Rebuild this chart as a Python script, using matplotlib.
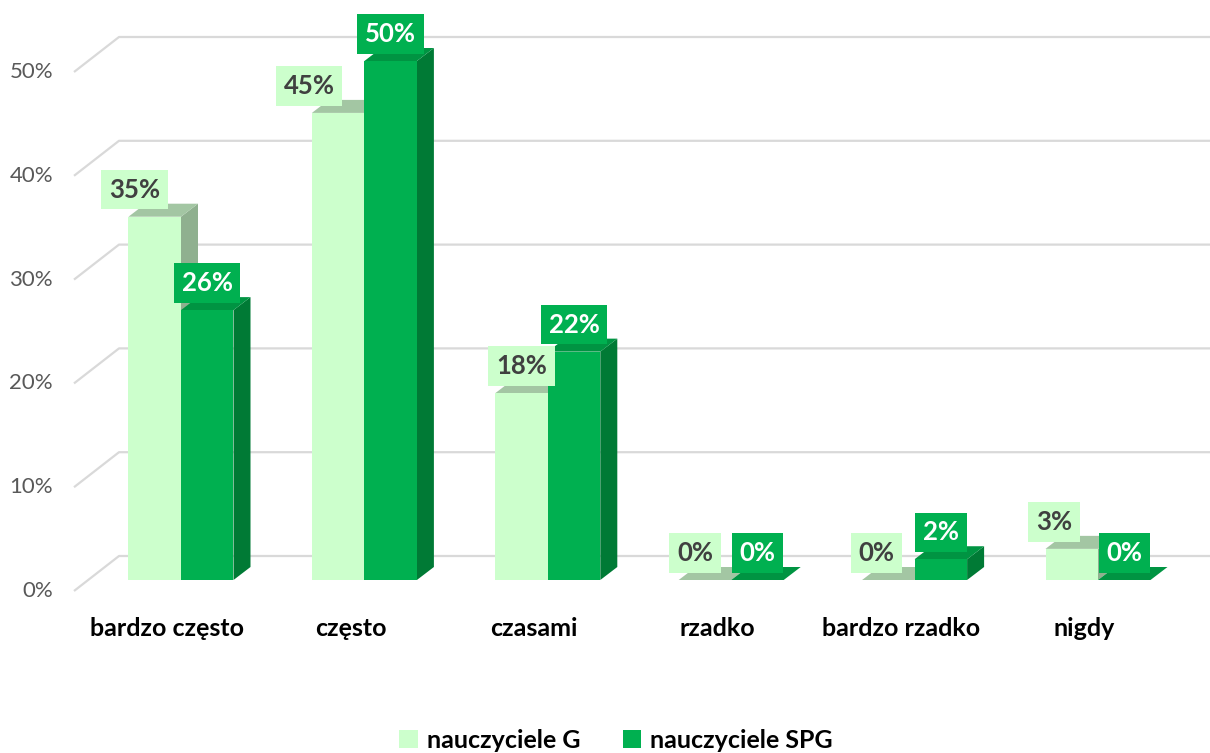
import matplotlib
matplotlib.use('Agg')
import matplotlib.pyplot as plt
from matplotlib.patches import Polygon, Rectangle, Patch

plt.rcParams['font.family'] = ['Lato', 'DejaVu Sans']

# --- data -------------------------------------------------------------
categories = ['bardzo często', 'często', 'czasami', 'rzadko', 'bardzo rzadko', 'nigdy']
teachers_g = [35, 45, 18, 0, 0, 3]
teachers_spg = [26, 50, 22, 0, 2, 0]
y_ticks = [0, 10, 20, 30, 40, 50]
series_names = ['nauczyciele G', 'nauczyciele SPG']

# --- style ------------------------------------------------------------
G_FRONT, G_TOP, G_SIDE = '#CCFFCC', '#A3C6A3', '#8FB08F'
S_FRONT, S_TOP, S_SIDE = '#00B050', '#009442', '#007A35'
GRID = '#D9D9D9'

PX_X = 183.4   # pixels per category
PX_Y = 10.38   # pixels per percent
BAR_W = 52.5 / PX_X
DEPTH_X, DEPTH_Y = 17 / PX_X, 13 / PX_Y
# G labels were nudged left in the original (pixels)
g_label_dx = [-20, -29, 0, -10, -12, -18]

fig = plt.figure(figsize=(12.1, 7.53), dpi=100)
ax = fig.add_axes([0, 0, 1, 1])
ax.set_xlim(-181 / PX_X, (1210 - 181) / PX_X)
ax.set_ylim((580 - 753) / PX_Y, 580 / PX_Y)
ax.axis('off')

# side wall + back wall gridlines
wall_front_x, wall_front_dy = (74 - 181) / PX_X, -11 / PX_Y
wall_back_x, wall_back_dy = (119 - 181) / PX_X, 24 / PX_Y
for t in y_ticks:
    ax.plot([wall_front_x, wall_back_x, ax.get_xlim()[1]],
            [t + wall_front_dy, t + wall_back_dy, t + wall_back_dy],
            color=GRID, lw=1.6, solid_capstyle='butt', zorder=1)
    ax.text((53 - 181) / PX_X, t + wall_front_dy, f'{t}%', ha='right', va='center',
            fontsize=16, color='#595959')


def draw_bar(x0, h, front, top, side):
    x1 = x0 + BAR_W
    ax.add_patch(Polygon([(x1, 0), (x1 + DEPTH_X, DEPTH_Y), (x1 + DEPTH_X, h + DEPTH_Y), (x1, h)],
                         closed=True, facecolor=side, edgecolor='none', zorder=2))
    ax.add_patch(Polygon([(x0, h), (x0 + DEPTH_X, h + DEPTH_Y), (x1 + DEPTH_X, h + DEPTH_Y), (x1, h)],
                         closed=True, facecolor=top, edgecolor='none', zorder=2))
    if h > 0:
        ax.add_patch(Rectangle((x0, 0), BAR_W, h, facecolor=front, edgecolor='none', zorder=2))


def draw_label(xc, h, txt, fc, tc, dx):
    ax.annotate(txt, xy=(xc, h), xytext=(dx, 27), textcoords='offset pixels',
                ha='center', va='center', fontsize=18.5, fontweight='bold', color=tc,
                bbox=dict(boxstyle='square,pad=0.3', facecolor=fc, edgecolor='none'),
                zorder=5)


for i, (g, s) in enumerate(zip(teachers_g, teachers_spg)):
    draw_bar(i - BAR_W, g, G_FRONT, G_TOP, G_SIDE)
    draw_bar(i, s, S_FRONT, S_TOP, S_SIDE)

for i, (g, s) in enumerate(zip(teachers_g, teachers_spg)):
    draw_label(i - BAR_W / 2, g, f'{g}%', G_FRONT, '#404040', g_label_dx[i])
    draw_label(i + BAR_W / 2, s, f'{s}%', S_FRONT, 'white', 0)

for i, name in enumerate(categories):
    ax.text(i - 14 / PX_X, (580 - 629) / PX_Y, name, ha='center', va='center',
            fontsize=18, fontweight='bold', color='black')

handles = [Patch(facecolor=G_FRONT), Patch(facecolor=S_FRONT)]
fig.legend(handles, series_names, loc='center', bbox_to_anchor=(0.509, (753 - 740) / 753),
           ncol=2, frameon=False, handlelength=0.75, handleheight=0.75, handletextpad=0.35,
           columnspacing=1.7, prop={'size': 18, 'weight': 'bold'})

fig.savefig('out.png', dpi=100)
